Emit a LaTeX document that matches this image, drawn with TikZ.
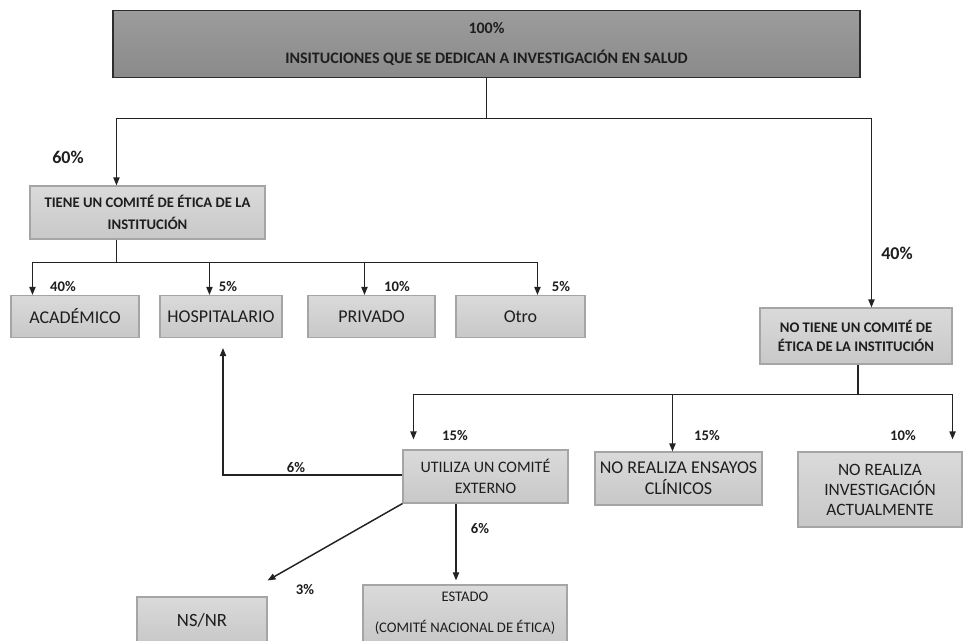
\documentclass[tikz,border=0pt]{standalone}
\usepackage{fontspec}
\setmainfont{Carlito}
\usetikzlibrary{arrows.meta,calc}
\definecolor{boxtop}{RGB}{218,218,218}
\definecolor{boxbot}{RGB}{200,200,200}
\definecolor{boxline}{RGB}{165,165,165}
\definecolor{ink}{RGB}{30,30,30}
\definecolor{wire}{RGB}{35,35,35}
\definecolor{topdark}{RGB}{138,138,138}
\definecolor{toplight}{RGB}{156,156,156}
\definecolor{topline}{RGB}{45,45,45}
\begin{document}
\begin{tikzpicture}[x=0.75pt,y=-0.75pt,
  box/.style={draw=boxline,top color=boxtop,bottom color=boxbot,line width=0.8pt,text=ink,align=center,inner sep=0pt},
  wirestyle/.style={draw=wire,line width=1.1pt},
  arr/.style={wirestyle,-{Triangle[length=6pt,width=4.6pt]}},
  pct/.style={text=ink,font=\bfseries\fontsize{11}{13}\selectfont,inner sep=0pt},
  bigpct/.style={text=ink,font=\bfseries\fontsize{13.5}{16}\selectfont,inner sep=0pt},
]
\useasboundingbox (0,0) rectangle (964,640);
\fill[white] (0,0) rectangle (964,640);

% boxes
\node[box,draw=topline,top color=toplight,bottom color=topdark,line width=1.1pt,minimum width=560.25pt,minimum height=50.25pt,
  font=\bfseries\fontsize{12}{22.5}\selectfont] (top) at (486.5,44)
  {100\%\\INSITUCIONES QUE SE DEDICAN A INVESTIGACIÓN EN SALUD};
\node[box,minimum width=176.25pt,minimum height=39.75pt,font=\bfseries\fontsize{11}{16}\selectfont] (tiene) at (147.5,212.5)
  {TIENE UN COMITÉ DE ÉTICA DE LA\\INSTITUCIÓN};
\node[box,minimum width=96pt,minimum height=31.5pt,font=\fontsize{13.5}{16}\selectfont] (acad) at (75,316.5) {ACADÉMICO};
\node[box,minimum width=91.5pt,minimum height=31.5pt,font=\fontsize{13.5}{16}\selectfont] (hosp) at (221,316.5) {HOSPITALARIO};
\node[box,minimum width=95.25pt,minimum height=31.5pt,font=\fontsize{13.5}{16}\selectfont] (priv) at (371.5,316.5) {PRIVADO};
\node[box,minimum width=96.75pt,minimum height=31.5pt,font=\fontsize{13.5}{16}\selectfont] (otro) at (520.5,316.5) {Otro};
\node[box,minimum width=144pt,minimum height=42pt,font=\bfseries\fontsize{11}{14}\selectfont] (notiene) at (856,336)
  {NO TIENE UN COMITÉ DE\\ÉTICA DE LA INSTITUCIÓN};
\node[box,minimum width=123.75pt,minimum height=39.75pt,font=\fontsize{12}{16}\selectfont] (utiliza) at (485.5,476.5)
  {UTILIZA UN COMITÉ\\EXTERNO};
\node[box,minimum width=125.25pt,minimum height=39.75pt,font=\fontsize{13.5}{16}\selectfont] (ensayos) at (678.5,478.5)
  {NO REALIZA ENSAYOS\\CLÍNICOS};
\node[box,minimum width=123pt,minimum height=56.25pt,font=\fontsize{13}{15}\selectfont] (invest) at (880,489.5)
  {NO REALIZA\\INVESTIGACIÓN\\ACTUALMENTE};
\node[box,minimum width=97.5pt,minimum height=34.5pt,font=\fontsize{14}{16}\selectfont] (nsnr) at (202,620) {NS/NR};
\node[box,minimum width=153pt,minimum height=42.75pt,font=\fontsize{11}{23}\selectfont] (estado) at (465,613.5)
  {ESTADO\\(COMITÉ NACIONAL DE ÉTICA)};

% connectors
\draw[wirestyle] (top.south) -- ++(0,40) coordinate (j1);
\coordinate (tin) at ($(tiene.north west)+(87,0)$);
\coordinate (nin) at ($(notiene.north west)+(112,0)$);
\draw[arr] (j1) -| (tin);
\draw[arr] (j1) -| (nin);

\draw[wirestyle] (tin |- tiene.south) -- ++(0,23) coordinate (j2);
\draw[arr] (j2) -| ($(acad.north west)+(22,0)$);
\draw[arr] (j2) -| ($(hosp.north west)+(50,0)$);
\draw[arr] (j2) -| ($(priv.north west)+(57,0)$);
\draw[arr] (j2) -| ($(otro.north west)+(82,0)$);

\draw[wirestyle] ($(notiene.south)+(2,0)$) -- ++(0,30) coordinate (j3);
\draw[arr] (j3) -| ($(utiliza.north west)+(11,-10)$);
\draw[arr] (j3) -| ($(ensayos.north west)+(78,0)$);
\draw[arr] (j3) -| ($(invest.north east)+(-10,-12)$);

\draw[arr] ($(utiliza.west)+(0,-1.5)$) -| ($(hosp.south)+(2,10)$);
\draw[arr] (utiliza.south west) -- ($(nsnr.north east)+(0,-16)$);
\draw[arr] ($(utiliza.south)+(-29.5,0)$) -- ($(estado.north)+(-9,-4)$);

% labels
\node[bigpct] (p60) at (68,157) {60\%};
\node[bigpct] (p40r) at (897,253) {40\%};
\node[pct] (p40) at (63,286) {40\%};
\node[pct] (p5a) at (228,286) {5\%};
\node[pct] (p10a) at (397,286) {10\%};
\node[pct] (p5b) at (561,286) {5\%};
\node[pct] (p15a) at (455,435) {15\%};
\node[pct] (p15b) at (707,435) {15\%};
\node[pct] (p10b) at (903,435) {10\%};
\node[pct] (p6a) at (296,467) {6\%};
\node[pct] (p6b) at (480,528) {6\%};
\node[pct] (p3) at (305,589) {3\%};
\end{tikzpicture}
\end{document}
